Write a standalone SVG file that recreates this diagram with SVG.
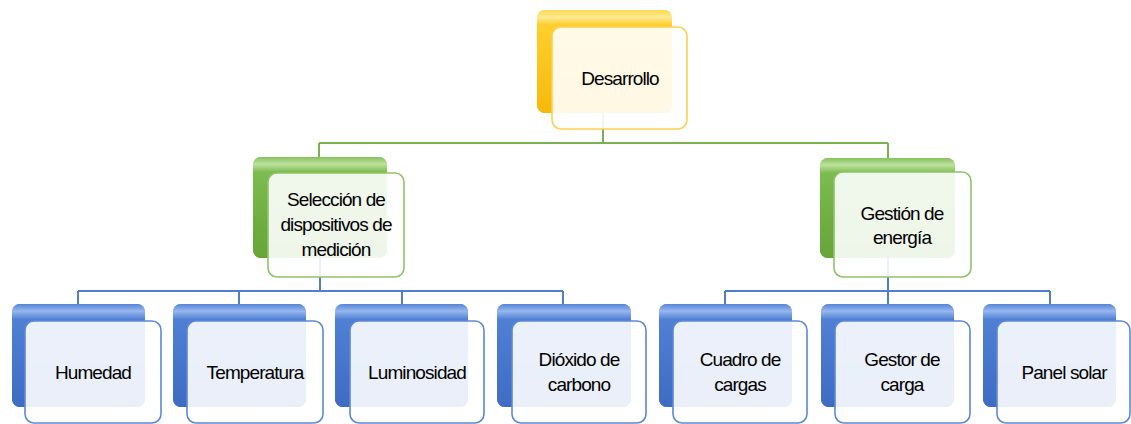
<svg xmlns="http://www.w3.org/2000/svg" width="1131" height="424" viewBox="0 0 1131 424">
  <defs>
    <!-- glossy back plates -->
    <linearGradient id="gGold" x1="0" y1="0" x2="0" y2="1">
      <stop offset="0" stop-color="#ffd84f"/>
      <stop offset="0.07" stop-color="#ffeb96"/>
      <stop offset="0.14" stop-color="#ffcf2e"/>
      <stop offset="1" stop-color="#f6b90a"/>
    </linearGradient>
    <linearGradient id="gGreen" x1="0" y1="0" x2="0" y2="1">
      <stop offset="0" stop-color="#86c05c"/>
      <stop offset="0.07" stop-color="#bde29d"/>
      <stop offset="0.15" stop-color="#7bbb4f"/>
      <stop offset="1" stop-color="#67a43a"/>
    </linearGradient>
    <linearGradient id="gBlue" x1="0" y1="0" x2="0" y2="1">
      <stop offset="0" stop-color="#5686d8"/>
      <stop offset="0.07" stop-color="#97b7ef"/>
      <stop offset="0.15" stop-color="#5080d4"/>
      <stop offset="1" stop-color="#3d6cc2"/>
    </linearGradient>
    <linearGradient id="gSide" x1="0" y1="0" x2="1" y2="0">
      <stop offset="0" stop-color="#000" stop-opacity="0.12"/>
      <stop offset="0.15" stop-color="#000" stop-opacity="0"/>
      <stop offset="0.9" stop-color="#fff" stop-opacity="0"/>
      <stop offset="1" stop-color="#fff" stop-opacity="0.25"/>
    </linearGradient>
  </defs>
  <style>
    .back { rx: 8px; ry: 8px; }
    .shade { fill: url(#gSide); }
    .front { rx: 9px; ry: 9px; stroke-width: 1.6; fill: #fff; fill-opacity: 0.89; }
    .gold .back { fill: url(#gGold); }
    .gold .front { stroke: #fbd24e; }
    .green .back { fill: url(#gGreen); }
    .green .front { stroke: #8ec467; }
    .blue .back { fill: url(#gBlue); }
    .blue .front { stroke: #5d88d6; }
    .conn { fill: none; stroke-width: 2; }
    .cg { stroke: #7ab152; }
    .cb { stroke: #4f7ed0; }
    text { font-family: "Liberation Sans", Arial, sans-serif; font-size: 19px; letter-spacing: -0.9px; fill: #000; text-anchor: middle; }
  </style>

  <!-- connectors -->
  <g id="connectors">
    <path class="conn cg" d="M603 113 V143 M319 143 H888 M319 143 V157 M888 143 V158"/>
    <path class="conn cb" d="M320 258 V291 M78 291 H563 M78 291 V304 M239 291 V304 M402 291 V304 M563 291 V304"/>
    <path class="conn cb" d="M888 258 V291 M725 291 H1050 M725 291 V304 M888 291 V304 M1050 291 V304"/>
  </g>

  <!-- root -->
  <g id="desarrollo" class="gold">
    <rect class="back" x="537" y="10" width="135" height="103"/>
    <rect class="back shade" x="537" y="10" width="135" height="103"/>
    <rect class="front" x="552" y="27" width="135" height="102"/>
    <text x="620" y="85">Desarrollo</text>
  </g>

  <!-- second level -->
  <g id="seleccion" class="green">
    <rect class="back" x="253" y="157" width="134" height="101"/>
    <rect class="back shade" x="253" y="157" width="134" height="101"/>
    <rect class="front" x="268" y="173" width="136" height="104"/>
    <text x="336" y="206">Selección de</text>
    <text x="336" y="231">dispositivos de</text>
    <text x="336" y="256">medición</text>
  </g>
  <g id="gestion" class="green">
    <rect class="back" x="820" y="158" width="135" height="100"/>
    <rect class="back shade" x="820" y="158" width="135" height="100"/>
    <rect class="front" x="834" y="172" width="137" height="105"/>
    <text x="902" y="220">Gestión de</text>
    <text x="902" y="244">energía</text>
  </g>

  <!-- third level -->
  <g id="humedad" class="blue">
    <rect class="back" x="12" y="304" width="133" height="103"/>
    <rect class="back shade" x="12" y="304" width="133" height="103"/>
    <rect class="front" x="25" y="321" width="136" height="102"/>
    <text x="93" y="379">Humedad</text>
  </g>
  <g id="temperatura" class="blue">
    <rect class="back" x="173" y="304" width="133" height="103"/>
    <rect class="back shade" x="173" y="304" width="133" height="103"/>
    <rect class="front" x="187" y="321" width="136" height="102"/>
    <text x="255" y="379">Temperatura</text>
  </g>
  <g id="luminosidad" class="blue">
    <rect class="back" x="335" y="304" width="133" height="103"/>
    <rect class="back shade" x="335" y="304" width="133" height="103"/>
    <rect class="front" x="350" y="321" width="134" height="102"/>
    <text x="417" y="379">Luminosidad</text>
  </g>
  <g id="dioxido" class="blue">
    <rect class="back" x="497" y="304" width="134" height="103"/>
    <rect class="back shade" x="497" y="304" width="134" height="103"/>
    <rect class="front" x="512" y="321" width="134" height="102"/>
    <text x="579" y="366">Dióxido de</text>
    <text x="579" y="391">carbono</text>
  </g>
  <g id="cuadro" class="blue">
    <rect class="back" x="659" y="304" width="133" height="103"/>
    <rect class="back shade" x="659" y="304" width="133" height="103"/>
    <rect class="front" x="673" y="321" width="134" height="102"/>
    <text x="740" y="366">Cuadro de</text>
    <text x="740" y="391">cargas</text>
  </g>
  <g id="gestor" class="blue">
    <rect class="back" x="821" y="304" width="133" height="103"/>
    <rect class="back shade" x="821" y="304" width="133" height="103"/>
    <rect class="front" x="835" y="321" width="135" height="102"/>
    <text x="902" y="366">Gestor de</text>
    <text x="902" y="391">carga</text>
  </g>
  <g id="panel" class="blue">
    <rect class="back" x="983" y="304" width="133" height="103"/>
    <rect class="back shade" x="983" y="304" width="133" height="103"/>
    <rect class="front" x="997" y="321" width="133" height="102"/>
    <text x="1064" y="379">Panel solar</text>
  </g>
</svg>
